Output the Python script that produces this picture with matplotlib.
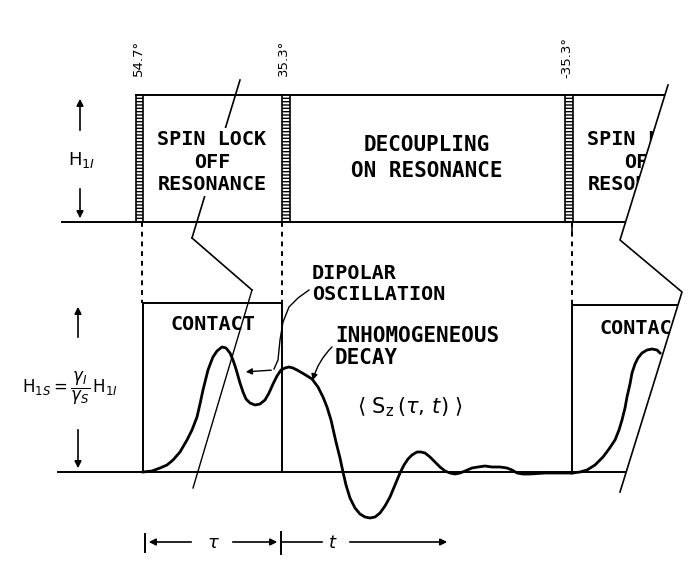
import matplotlib.pyplot as plt
from matplotlib.patches import Rectangle, Polygon

plt.rcParams['mathtext.fontset'] = 'dejavusans'

# pulse labels
angle_labels = ['54.7°', '35.3°', '-35.3°']
top_labels = ['SPIN LOCK\nOFF\nRESONANCE', 'DECOUPLING\nON RESONANCE']
contact_label = 'CONTACT'

# <S_z(tau, t)> during contact + decoupling: canvas x, height above baseline
sig_x = [143, 152, 160, 167, 173, 180, 187, 192, 197, 200, 203, 206, 208, 211,
         213, 217, 222, 226, 230, 233, 236, 240, 243, 246, 250, 255, 260, 265,
         269, 273, 277, 281, 285, 289, 293, 297, 304, 312, 318, 323, 327, 331,
         336, 340, 343, 346, 350, 355, 360, 365, 370, 375, 380, 385, 390, 395,
         400, 404, 408, 412, 417, 421, 425, 430, 435, 440, 445, 450, 455, 460,
         465, 472, 478, 485, 492, 500, 507, 512, 517, 523, 530, 545, 572]
sig_h = [0, 1, 4, 7, 12, 20, 32, 42, 55, 68, 82, 94, 102, 110,
         115, 121, 125, 124, 119, 112, 103, 89, 80, 73, 69, 67, 68, 72,
         79, 88, 96, 102, 104, 105, 104, 102, 98, 93, 85, 75, 65, 52,
         30, 14, 0, -13, -26, -36, -42, -45, -46, -45, -41, -34, -25, -13,
         -1, 7, 13, 17, 20, 20, 19, 15, 10, 5, 1, -1, -2, -1,
         1, 4, 5, 6, 5, 5, 4, 2, -1, -2, -2, -1, -1]

# start of the next contact period
sig2_x = [572, 580, 587, 595, 603, 609, 615, 619, 622, 625, 627, 630, 632, 635,
          638, 642, 647, 652, 657, 660]
sig2_h = [-1, 0, 2, 7, 15, 23, 32, 42, 52, 64, 75, 88, 99, 108,
          114, 119, 122, 123, 122, 119]

# time-axis break lines
brk_left_x = [240, 192, 252, 193]
brk_left_y = [80, 238, 290, 488]
brk_right_x = [694, 668, 620, 682, 620, 598]
brk_right_y = [0, 85, 240, 292, 492, 564]

base = 472
period = 430

fig = plt.figure(figsize=(6.88, 5.64), dpi=100)
ax = fig.add_axes([0, 0, 1, 1])
ax.set_xlim(0, 688)
ax.set_ylim(564, 0)
ax.axis('off')

lw = 1.4
mono = 'DejaVu Sans Mono'
lab = dict(family=mono, fontsize=14.5, fontweight='bold')

# everything beyond the right break is blanked out
ax.add_patch(Polygon(list(zip(brk_right_x + [720, 720], brk_right_y + [564, 0])),
                     closed=True, facecolor='white', edgecolor='none', zorder=5))

# ---- upper trace: proton rf field H_1I ----
ax.plot([136, 665], [95, 95], 'k', lw=lw)
ax.plot([62, 625], [222, 222], 'k', lw=lw)
for x0, w in zip([136, 282, 565], [7, 8, 8]):
    ax.add_patch(Rectangle((x0, 95), w, 127, facecolor='white', edgecolor='k',
                           hatch='-----', lw=1.2, zorder=3))
for x0, a in zip([138, 283, 567], angle_labels):
    ax.text(x0, 58, a, rotation=90, ha='center', va='center', fontsize=9.5)

ax.plot(brk_left_x[:2], brk_left_y[:2], 'k', lw=1.2, zorder=1)
ax.plot(brk_left_x[1:3], brk_left_y[1:3], 'k', lw=1.2, zorder=1)
ax.plot(brk_left_x[2:], brk_left_y[2:], 'k', lw=1.0, zorder=1)
ax.plot(brk_right_x[1:5], brk_right_y[1:5], 'k', lw=1.2, zorder=6)

ax.text(212, 162, top_labels[0], ha='center', va='center', linespacing=1.25,
        zorder=2, bbox=dict(facecolor='white', edgecolor='none', pad=1), **lab)
ax.text(212 + period, 162, top_labels[0], ha='center', va='center',
        linespacing=1.25, zorder=2, **lab)
ax.text(427, 158, top_labels[1], ha='center', va='center', linespacing=1.35,
        **dict(lab, fontsize=15))

ax.annotate('', xy=(80, 96), xytext=(80, 133),
            arrowprops=dict(arrowstyle='-|>', lw=1.2, color='k', mutation_scale=10))
ax.annotate('', xy=(80, 221), xytext=(80, 186),
            arrowprops=dict(arrowstyle='-|>', lw=1.2, color='k', mutation_scale=10))
ax.text(82, 160, r'$\mathrm{H}_{1I}$', ha='center', va='center', fontsize=13)

# ---- lower trace: carbon signal ----
ax.plot([58, 626], [base, base], 'k', lw=lw)
for xd, yt in zip([142, 282, 572], [303, 303, 305]):
    ax.plot([xd, xd], [222, yt], color='k', lw=1.4, ls=(0, (2.5, 2.5)))
ax.plot([572, 572], [222, 234], 'k', lw=1.2)

ax.plot([143, 143, 282, 282], [base, 303, 303, base], 'k', lw=lw)
ax.plot([572, 572, 690], [base, 305, 305], 'k', lw=lw)

ax.text(213, 324, contact_label, ha='center', va='center', **lab)
ax.text(213 + period - 1, 328, contact_label, ha='center', va='center', **lab)

ax.plot(sig_x, [base - h for h in sig_h], 'k', lw=2.0, zorder=4)
ax.plot(sig2_x, [base - h for h in sig2_h], 'k', lw=2.0, zorder=4)

ax.text(312, 284, 'DIPOLAR\nOSCILLATION', ha='left', va='center',
        linespacing=1.1, **lab)
ax.plot([309, 298, 289, 283, 280, 278, 274], [290, 298, 307, 322, 340, 360, 369],
        'k', lw=1.0)
ax.annotate('', xy=(243, 372), xytext=(274, 370),
            arrowprops=dict(arrowstyle='-|>', lw=1.0, color='k', mutation_scale=9))
ax.text(335, 347, 'INHOMOGENEOUS\nDECAY', ha='left', va='center',
        linespacing=1.15, **dict(lab, fontsize=15))
ax.annotate('', xy=(312, 383), xytext=(334, 345),
            arrowprops=dict(arrowstyle='-|>', lw=1.0, color='k', mutation_scale=9,
                            connectionstyle='arc3,rad=0.15'))
ax.text(410, 407, r'$\langle\ \mathrm{S_z}\,(\tau,\,t)\ \rangle$', ha='center',
        va='center', fontsize=15)

ax.annotate('', xy=(78, 304), xytext=(78, 340),
            arrowprops=dict(arrowstyle='-|>', lw=1.2, color='k', mutation_scale=10))
ax.annotate('', xy=(78, 471), xytext=(78, 427),
            arrowprops=dict(arrowstyle='-|>', lw=1.2, color='k', mutation_scale=10))
ax.text(70, 388, r'$\mathrm{H}_{1S} = \dfrac{\gamma_I}{\gamma_S}\,\mathrm{H}_{1I}$',
        ha='center', va='center', fontsize=12)

# ---- time axis: tau and t ----
ax.plot([145, 145], [534, 552], 'k', lw=1.4)
ax.plot([281, 281], [532, 554], 'k', lw=1.4)
ax.annotate('', xy=(146, 542), xytext=(194, 542),
            arrowprops=dict(arrowstyle='-|>', lw=1.2, color='k', mutation_scale=10))
ax.annotate('', xy=(280, 542), xytext=(230, 542),
            arrowprops=dict(arrowstyle='-|>', lw=1.2, color='k', mutation_scale=10))
ax.plot([281, 322], [542, 542], 'k', lw=1.2)
ax.annotate('', xy=(450, 542), xytext=(347, 542),
            arrowprops=dict(arrowstyle='-|>', lw=1.2, color='k', mutation_scale=10))
ax.text(213, 543, r'$\tau$', ha='center', va='center', fontsize=13)
ax.text(333, 543, r'$t$', ha='center', va='center', fontsize=13)

fig.savefig('out.png', dpi=100)
